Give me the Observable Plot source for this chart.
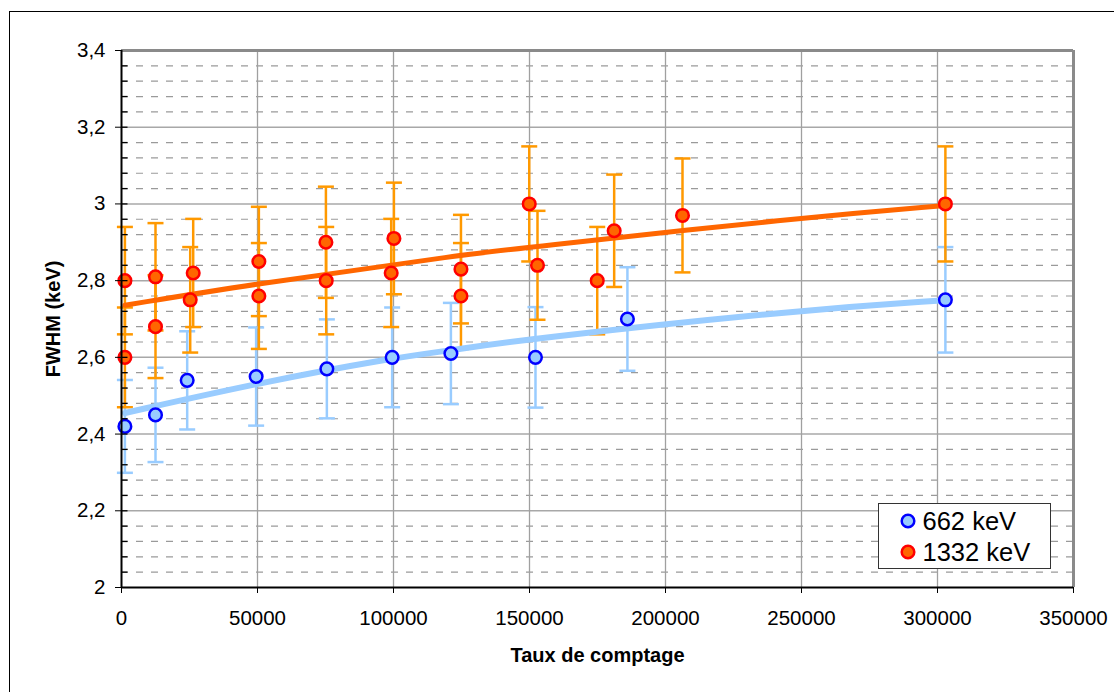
<!DOCTYPE html>
<html>
<head>
<meta charset="utf-8">
<script src="https://cdn.jsdelivr.net/npm/d3@7"></script>
<script src="https://cdn.jsdelivr.net/npm/@observablehq/plot@0.6"></script>
<style>
  html, body { margin: 0; padding: 0; background: #fff; overflow: hidden; }
  #wrap { position: relative; width: 1114px; height: 692px; overflow: hidden; font-family: "Liberation Sans", Arial, sans-serif; }
  #outer { position: absolute; left: 9px; top: 11px; width: 1300px; height: 900px; border-left: 1.5px solid #000; border-top: 1.5px solid #000; box-sizing: border-box; }
  #chart { position: absolute; left: 0; top: 0; }
  #legend { position: absolute; left: 878px; top: 503px; width: 173px; height: 66px; box-sizing: border-box; border: 1.5px solid #333; background: #fff; font-size: 25.5px; }
  .item { position: absolute; left: 0; height: 30px; display: flex; align-items: center; line-height: 30px; }
  .item svg { margin-left: 19.5px; margin-right: 6px; }
</style>
</head>
<body>
<div id="wrap">
  <div id="outer"></div>
  <div id="chart"></div>
  <div id="legend">
    <div class="item" style="top:1.5px"><svg width="18" height="18"><circle cx="9" cy="9" r="6.3" fill="#99CCFF" stroke="#0000FF" stroke-width="2.5"/></svg><span>662 keV</span></div>
    <div class="item" style="top:32.5px"><svg width="18" height="18"><circle cx="9" cy="9" r="6.3" fill="#FF6600" stroke="#FF0000" stroke-width="2.5"/></svg><span>1332 keV</span></div>
  </div>
</div>
<script>
// ---- data ----
const count662 = [1250, 12500, 24150, 49500, 75500, 99500, 121100, 152200, 186000, 302900];
const fwhm662  = [2.42, 2.45, 2.54, 2.55, 2.57, 2.60, 2.61, 2.60, 2.70, 2.75];
const err662   = [0.121, 0.123, 0.128, 0.128, 0.129, 0.130, 0.132, 0.131, 0.135, 0.1375];

const count1332 = [1250, 1250, 12500, 12500, 26360, 25260, 50500, 50500, 75150, 75260, 100150, 99150, 124800, 124800, 149900, 152940, 174900, 181130, 206250, 302900];
const fwhm1332  = [2.80, 2.60, 2.81, 2.68, 2.82, 2.75, 2.85, 2.76, 2.90, 2.80, 2.91, 2.82, 2.83, 2.76, 3.00, 2.84, 2.80, 2.93, 2.97, 3.00];
const err1332   = [0.140, 0.130, 0.140, 0.134, 0.141, 0.1375, 0.1425, 0.138, 0.145, 0.140, 0.1455, 0.141, 0.1415, 0.138, 0.150, 0.142, 0.140, 0.1465, 0.1485, 0.150];

// trend curves
const trendX662  = [1250, 50000, 100000, 121000, 146600, 250000, 302900];
const trendY662  = [2.455, 2.533, 2.599, 2.618, 2.646, 2.724, 2.749];
const trendX1332 = [1250, 49500, 99500, 121000, 146600, 249500, 302900];
const trendY1332 = [2.736, 2.792, 2.840, 2.863, 2.885, 2.964, 2.996];

const xTicks = [0, 50000, 100000, 150000, 200000, 250000, 300000, 350000];
const yTicks = [2, 2.2, 2.4, 2.6, 2.8, 3, 3.2, 3.4];

// ---- build tables ----
const s662 = count662.map((x, i) => ({x, y: fwhm662[i], lo: fwhm662[i] - err662[i], hi: fwhm662[i] + err662[i]}));
const s1332 = count1332.map((x, i) => ({x, y: fwhm1332[i], lo: fwhm1332[i] - err1332[i], hi: fwhm1332[i] + err1332[i]}));
const t662 = trendX662.map((x, i) => ({x, y: trendY662[i]}));
const t1332 = trendX1332.map((x, i) => ({x, y: trendY1332[i]}));

const yMinorAll = d3.range(1, 35).map(i => +(2 + i * 0.04).toFixed(2));
const yMinor = yMinorAll.filter(v => Math.abs(v * 5 - Math.round(v * 5)) > 1e-6);

const fr = d3.formatLocale({decimal: ",", thousands: "", grouping: [3], currency: ["", ""]});
const yFmt = fr.format("~g");

const capSymbol = { draw(ctx, size) { const r = Math.sqrt(size / Math.PI); ctx.moveTo(-r, 0); ctx.lineTo(r, 0); } };
const minorTickSymbol = { draw(ctx, size) { ctx.moveTo(0, 0); ctx.lineTo(6, 0); } };

const chart = Plot.plot({
  width: 1114,
  height: 692,
  marginLeft: 121,
  marginRight: 41,
  marginTop: 50,
  marginBottom: 105,
  style: { fontFamily: "'Liberation Sans', Arial, sans-serif", fontSize: "20.5px", background: "transparent", overflow: "visible" },
  x: { domain: [0, 350000] },
  y: { domain: [2, 3.4] },
  marks: [
    // grid
    Plot.ruleY(yMinor, { stroke: "#9a9a9a", strokeWidth: 1.2, strokeDasharray: "7,8" }),
    Plot.ruleY(yTicks.slice(1, -1), { stroke: "#a8a8a8", strokeWidth: 1.5 }),
    Plot.ruleX(xTicks.slice(1, -1), { stroke: "#a0a0a0", strokeWidth: 1.3 }),
    // plot area border (top / right)
    Plot.ruleY([3.4], { stroke: "#8a8a8a", strokeWidth: 3 }),
    Plot.ruleX([350000], { stroke: "#8a8a8a", strokeWidth: 3 }),
    // error bars 662
    Plot.ruleX(s662, { x: "x", y1: "lo", y2: "hi", stroke: "#99CCFF", strokeWidth: 2.5 }),
    Plot.dot(s662, { x: "x", y: "lo", symbol: capSymbol, r: 8, fill: "none", stroke: "#99CCFF", strokeWidth: 2.5 }),
    Plot.dot(s662, { x: "x", y: "hi", symbol: capSymbol, r: 8, fill: "none", stroke: "#99CCFF", strokeWidth: 2.5 }),
    // error bars 1332
    Plot.ruleX(s1332, { x: "x", y1: "lo", y2: "hi", stroke: "#FF9900", strokeWidth: 2.5 }),
    Plot.dot(s1332, { x: "x", y: "lo", symbol: capSymbol, r: 8, fill: "none", stroke: "#FF9900", strokeWidth: 2.5 }),
    Plot.dot(s1332, { x: "x", y: "hi", symbol: capSymbol, r: 8, fill: "none", stroke: "#FF9900", strokeWidth: 2.5 }),
    // trend lines
    Plot.line(t662, { x: "x", y: "y", stroke: "#99CCFF", strokeWidth: 6, curve: "basis" }),
    Plot.line(t1332, { x: "x", y: "y", stroke: "#FF6600", strokeWidth: 5, curve: "basis" }),
    // markers
    Plot.dot(s662, { x: "x", y: "y", r: 6.3, fill: "#99CCFF", stroke: "#0000FF", strokeWidth: 2.5 }),
    Plot.dot(s1332, { x: "x", y: "y", r: 6.3, fill: "#FF6600", stroke: "#FF0000", strokeWidth: 2.5 }),
    // axes lines
    Plot.ruleX([0], { stroke: "#000", strokeWidth: 2 }),
    Plot.ruleY([2], { stroke: "#000", strokeWidth: 2 }),
    // minor y ticks (inward)
    Plot.dot(yMinorAll, { x: () => 0, y: d => d, symbol: minorTickSymbol, r: 3, fill: "none", stroke: "#000", strokeWidth: 1.3 }),
    Plot.axisY({ ticks: yTicks, tickSize: 6, tickPadding: 10, tickFormat: yFmt, label: null, fontSize: "20.5px" }),
    Plot.axisX({ ticks: xTicks, tickSize: 6, tickPadding: 17, tickFormat: d => String(d), label: null, fontSize: "20.5px" }),
    // axis titles
    Plot.text(["FWHM (keV)"], { frameAnchor: "left", dx: -68, rotate: -90, fontWeight: "bold", fontSize: 20, lineAnchor: "middle", textAnchor: "middle", fill: "#000" }),
    Plot.text(["Taux de comptage"], { frameAnchor: "bottom", dy: 68, fontWeight: "bold", fontSize: 20, lineAnchor: "middle", textAnchor: "middle", fill: "#000" })
  ]
});
document.getElementById("chart").appendChild(chart);
</script>
</body>
</html>
